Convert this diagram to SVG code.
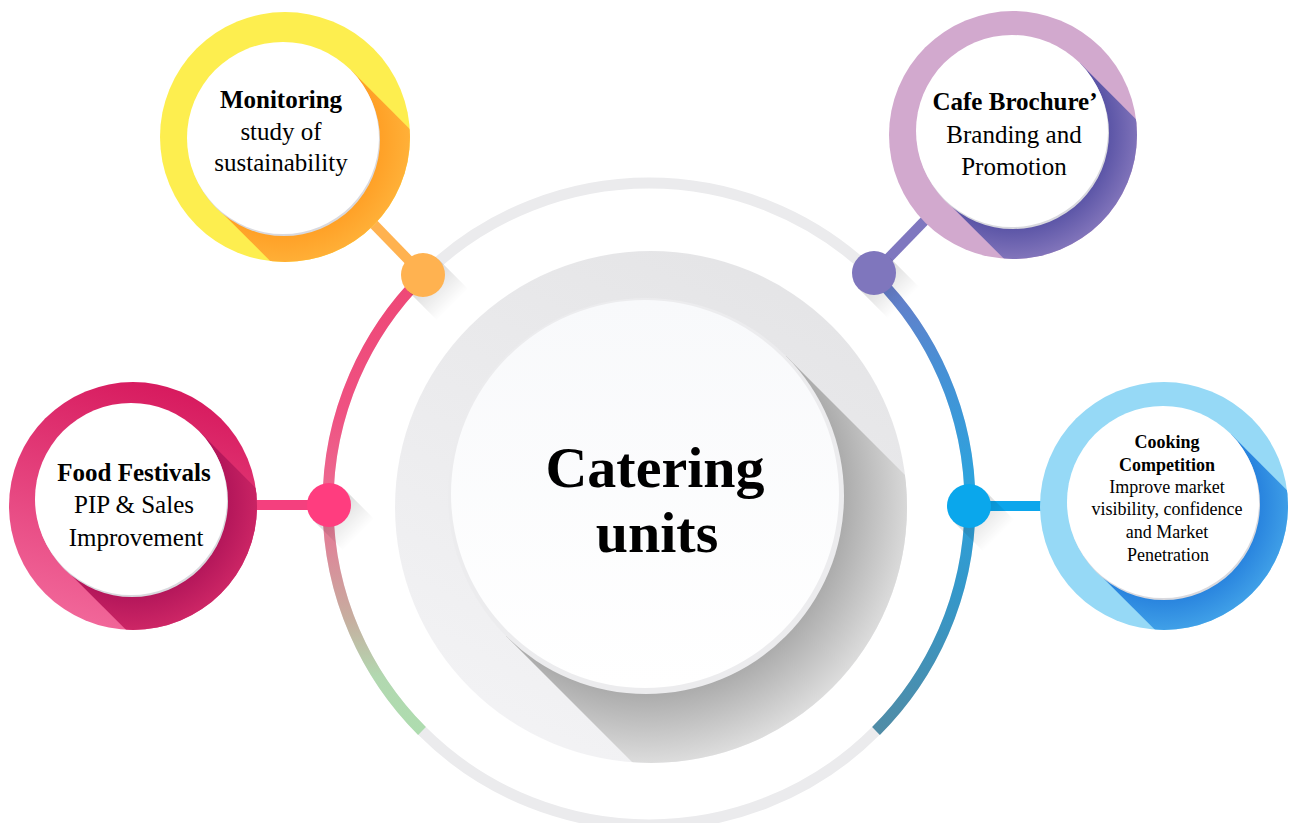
<svg xmlns="http://www.w3.org/2000/svg" width="1289" height="823" viewBox="0 0 1289 823">
  <style>
    .t { font-family: "Liberation Serif", "DejaVu Serif", serif; fill: #000; text-anchor: middle; }
    .b { font-weight: bold; }
    .ring { fill: none; stroke-width: 11; }
    .link { stroke-width: 10; stroke-linecap: butt; }
    .rim { fill: #d9d9de; }
    .face { fill: #ffffff; }
  </style>
  <defs>
    <!-- central disk -->
    <linearGradient id="gDisk" x1="0.75" y1="0" x2="0.25" y2="1">
      <stop offset="0" stop-color="#e4e4e6"/>
      <stop offset="1" stop-color="#f3f3f5"/>
    </linearGradient>
    <radialGradient id="gDiskShadow" gradientUnits="userSpaceOnUse" cx="646" cy="496" r="275">
      <stop offset="0.72" stop-color="#acacac"/>
      <stop offset="1" stop-color="#e2e2e2"/>
    </radialGradient>
    <linearGradient id="gFace" x1="0" y1="0" x2="0" y2="1">
      <stop offset="0" stop-color="#f8f9fb"/>
      <stop offset="1" stop-color="#ffffff"/>
    </linearGradient>
    <clipPath id="cDisk"><circle cx="651" cy="507" r="256"/></clipPath>

    <!-- coloured arcs of the outer ring -->
    <linearGradient id="gArcL" gradientUnits="userSpaceOnUse" x1="0" y1="277" x2="0" y2="731">
      <stop offset="0" stop-color="#ee4776"/>
      <stop offset="0.3" stop-color="#ef5282"/>
      <stop offset="0.5" stop-color="#ec6d92"/>
      <stop offset="0.62" stop-color="#d98d9a"/>
      <stop offset="0.75" stop-color="#c7ad9f"/>
      <stop offset="0.88" stop-color="#b2d8b0"/>
      <stop offset="1" stop-color="#aedcaf"/>
    </linearGradient>
    <linearGradient id="gArcR" gradientUnits="userSpaceOnUse" x1="0" y1="277" x2="0" y2="731">
      <stop offset="0" stop-color="#6b7bc7"/>
      <stop offset="0.2" stop-color="#4790d5"/>
      <stop offset="0.45" stop-color="#2da3dd"/>
      <stop offset="0.7" stop-color="#3597c9"/>
      <stop offset="1" stop-color="#508ca6"/>
    </linearGradient>

    <!-- node rings -->
    <radialGradient id="gShYellow" gradientUnits="userSpaceOnUse" cx="283" cy="138" r="160">
      <stop offset="0.6" stop-color="#ffa026"/>
      <stop offset="1" stop-color="#ffc24c"/>
    </radialGradient>
    <radialGradient id="gShPurple" gradientUnits="userSpaceOnUse" cx="1012" cy="131" r="160">
      <stop offset="0.6" stop-color="#5a54a6"/>
      <stop offset="1" stop-color="#a995cf"/>
    </radialGradient>
    <radialGradient id="gShBlue" gradientUnits="userSpaceOnUse" cx="1163" cy="502" r="160">
      <stop offset="0.6" stop-color="#2883de"/>
      <stop offset="1" stop-color="#58bdf1"/>
    </radialGradient>
    <linearGradient id="gPink" x1="0.6" y1="0" x2="0.3" y2="1">
      <stop offset="0" stop-color="#d71a5e"/>
      <stop offset="1" stop-color="#f2699b"/>
    </linearGradient>
    <radialGradient id="gShPink" gradientUnits="userSpaceOnUse" cx="131" cy="499" r="160">
      <stop offset="0.6" stop-color="#b3165a"/>
      <stop offset="1" stop-color="#e2336f"/>
    </radialGradient>
    <clipPath id="cYellow"><circle cx="285" cy="137" r="125"/></clipPath>
    <clipPath id="cPurple"><circle cx="1013" cy="135" r="124"/></clipPath>
    <clipPath id="cBlue"><circle cx="1164" cy="506" r="124"/></clipPath>
    <clipPath id="cPink"><circle cx="133" cy="506" r="124"/></clipPath>

    <!-- long shadow behind the small dots -->
    <linearGradient id="gDotShadow" x1="0" y1="0" x2="1" y2="1">
      <stop offset="0.25" stop-color="#000" stop-opacity="0.16"/>
      <stop offset="0.72" stop-color="#000" stop-opacity="0"/>
    </linearGradient>
  </defs>

  <rect width="1289" height="823" fill="#ffffff"/>

  <!-- centre: Catering units -->
  <g id="node-center">
    <circle cx="651" cy="507" r="256" fill="url(#gDisk)"/>
    <polygon clip-path="url(#cDisk)" points="786,356 1068.8,638.8 788.8,918.8 506,636" fill="url(#gDiskShadow)"/>
    <circle cx="646" cy="496" r="198" fill="#ececee"/>
    <circle cx="645" cy="494" r="194" fill="url(#gFace)"/>
    <text class="t b" x="655" y="487" font-size="58">Catering</text>
    <text class="t b" x="657" y="552" font-size="58">units</text>
  </g>

  <!-- outer ring, links and dots -->
  <g id="connectors">
    <circle class="ring" cx="649" cy="504" r="321" stroke="#ebebed"/>
    <path class="ring" d="M422 277 A321 321 0 0 0 422 731" stroke="url(#gArcL)"/>
    <path class="ring" d="M876 277 A321 321 0 0 1 876 731" stroke="url(#gArcR)"/>

    <line class="link" x1="360" y1="210" x2="423" y2="275" stroke="#ffb250"/>
    <line class="link" x1="935" y1="210" x2="874" y2="273" stroke="#7f77bf"/>
    <line class="link" x1="250" y1="505" x2="329" y2="505" stroke="#f4407e"/>
    <line class="link" x1="969" y1="506" x2="1050" y2="506" stroke="#0ca6ec"/>

    <g fill="url(#gDotShadow)">
      <polygon points="438.6,259.4 470.4,291.3 439.3,322.4 407.4,290.6"/>
      <polygon points="889.6,257.4 921.4,289.3 890.3,320.4 858.4,288.6"/>
      <polygon points="344.6,489.4 376.4,521.3 345.3,552.4 313.4,520.6"/>
      <polygon points="984.6,490.4 1016.4,522.3 985.3,553.4 953.4,521.6"/>
    </g>

    <circle cx="423" cy="275" r="22" fill="#ffb250"/>
    <circle cx="874" cy="273" r="22" fill="#7f76bd"/>
    <circle cx="329" cy="505" r="22" fill="#ff3d7f"/>
    <circle cx="969" cy="506" r="22" fill="#0aa7ec"/>
  </g>

  <!-- Monitoring -->
  <g id="node-monitoring">
    <circle cx="285" cy="137" r="125" fill="#fdee4f"/>
    <polygon clip-path="url(#cYellow)" points="350.9,70.1 563,282.2 427.2,418 215.1,205.9" fill="url(#gShYellow)"/>
    <circle class="rim" cx="284" cy="140" r="96"/>
    <circle class="face" cx="283" cy="138" r="96"/>
    <text class="t b" x="281" y="108" font-size="25">Monitoring</text>
    <text class="t" x="281" y="140" font-size="25">study of</text>
    <text class="t" x="281" y="171" font-size="25">sustainability</text>
  </g>

  <!-- Cafe Brochure -->
  <g id="node-cafe">
    <circle cx="1013" cy="135" r="124" fill="#d2a9ce"/>
    <polygon clip-path="url(#cPurple)" points="1079.9,63.1 1292,275.2 1156.2,411 944.1,198.9" fill="url(#gShPurple)"/>
    <circle class="rim" cx="1013" cy="133" r="96"/>
    <circle class="face" cx="1012" cy="131" r="96"/>
    <text class="t b" x="1015" y="110" font-size="25">Cafe Brochure’</text>
    <text class="t" x="1014" y="143" font-size="25">Branding and</text>
    <text class="t" x="1014" y="175" font-size="25">Promotion</text>
  </g>

  <!-- Cooking Competition -->
  <g id="node-cooking">
    <circle cx="1164" cy="506" r="124" fill="#96d9f6"/>
    <polygon clip-path="url(#cBlue)" points="1230.9,434.1 1443,646.2 1307.2,782 1095.1,569.9" fill="url(#gShBlue)"/>
    <circle class="rim" cx="1164" cy="504" r="96"/>
    <circle class="face" cx="1163" cy="502" r="96"/>
    <text class="t b" x="1167" y="448" font-size="18">Cooking</text>
    <text class="t b" x="1167" y="471" font-size="18">Competition</text>
    <text class="t" x="1167" y="493" font-size="18">Improve market</text>
    <text class="t" x="1167" y="515" font-size="18">visibility, confidence</text>
    <text class="t" x="1167" y="538" font-size="18">and Market</text>
    <text class="t" x="1168" y="561" font-size="18">Penetration</text>
  </g>

  <!-- Food Festivals -->
  <g id="node-food">
    <circle cx="133" cy="506" r="124" fill="url(#gPink)"/>
    <polygon clip-path="url(#cPink)" points="198.9,431.1 411,643.2 275.2,779 63.1,566.9" fill="url(#gShPink)"/>
    <circle class="rim" cx="132" cy="501" r="96"/>
    <circle class="face" cx="131" cy="499" r="96"/>
    <text class="t b" x="134" y="481" font-size="25">Food Festivals</text>
    <text class="t" x="134" y="513" font-size="25">PIP &amp; Sales</text>
    <text class="t" x="136" y="546" font-size="25">Improvement</text>
  </g>
</svg>
